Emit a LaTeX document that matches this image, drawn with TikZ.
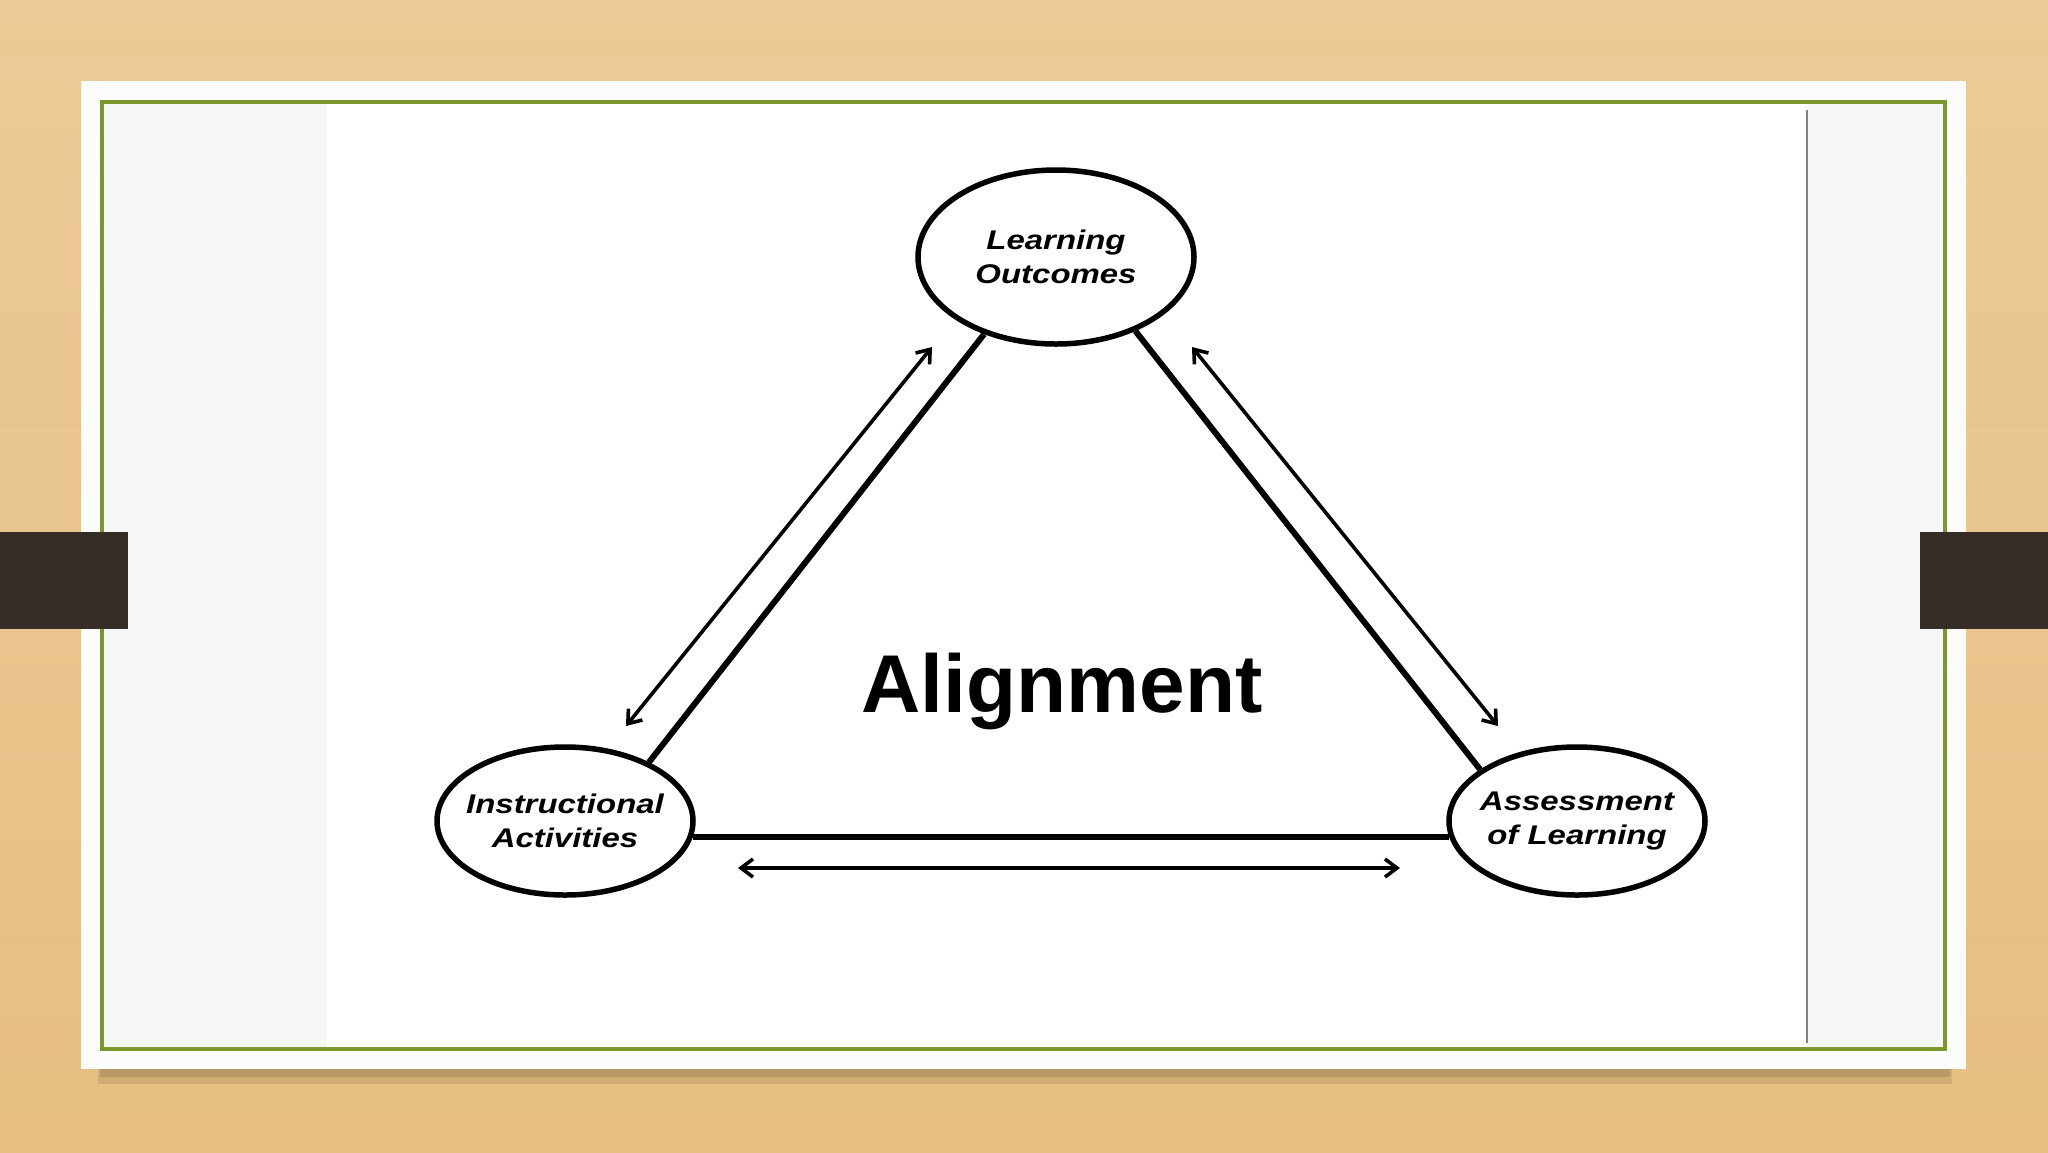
\documentclass[tikz,border=0pt]{standalone}
\usepackage{fontspec}
\setmainfont{Liberation Sans}
\newfontfamily\ovalfont{Liberation Sans}[FakeStretch=1.22]
\usetikzlibrary{arrows.meta,shapes.geometric}
\definecolor{WoodTan}{RGB}{236,203,152}
\definecolor{WoodDeep}{RGB}{230,190,130}
\definecolor{FrameGreen}{RGB}{122,152,44}
\definecolor{TabBrown}{RGB}{54,44,40}
\definecolor{PaneGrey}{RGB}{246,247,247}

\tikzset{
  oval/.style={
    ellipse,
    draw=black,
    line width=5.5pt,
    fill=white,
    inner xsep=-10pt,
    inner ysep=0pt,
    align=center,
    font=\ovalfont\bfseries\itshape\fontsize{27}{34}\selectfont
  },
  link/.style={line width=6pt},
  twoway/.style={
    line width=3.6pt,
    {Straight Barb[length=12pt,width=18pt]}-{Straight Barb[length=12pt,width=18pt]}
  }
}

\begin{document}
\begin{tikzpicture}[x=1pt,y=-1pt]
  \useasboundingbox (0,0) rectangle (2048,1152);
  % table and slide card
  \shade[top color=WoodTan, bottom color=WoodDeep] (0,0) rectangle (2048,1152);
  \foreach \yy/\op in {38/0.12,160/0.08,410/0.1,700/0.08,930/0.1,1110/0.1}
    \fill[WoodDeep, opacity=\op] (0,\yy) rectangle (2048,\yy+18);
  \fill[black!70!brown, opacity=0.12] (98,1066) rectangle (1952,1084);
  \fill[black!70!brown, opacity=0.14] (100,1066) rectangle (1950,1077);
  \fill[white!98!gray] (81,81) rectangle (1966,1069);
  \fill[PaneGrey] (102,102) rectangle (327,1049);
  \fill[PaneGrey] (1807,102) rectangle (1945,1049);
  \fill[white] (327,102) rectangle (1807,1049);
  \draw[gray, line width=2.5pt] (1807,110) -- (1807,1043);
  \draw[FrameGreen, line width=4pt] (102,102) rectangle (1945,1049);
  \fill[TabBrown] (0,532) rectangle (128,629);
  \fill[TabBrown] (1920,532) rectangle (2048,629);

  \node[oval, minimum width=276pt, minimum height=174pt] (outcomes) at (1056,257) {Learning\\Outcomes};
  \node[oval, minimum width=256pt, minimum height=148pt] (activities) at (565,821) {Instructional\\Activities};
  \node[oval, minimum width=256pt, minimum height=148pt] (assessment) at (1577,821) {Assessment\\of Learning};

  \draw[link] (outcomes.227) -- (activities.35);
  \draw[link] (outcomes.317) -- (assessment.152);
  \draw[link] (activities.-7) -- (assessment.187);

  \coordinate (leftTop) at (932,347);
  \coordinate (leftLow) at (626,726);
  \coordinate (rightTop) at (1192,347);
  \coordinate (rightLow) at (1498,726);
  \coordinate (lowLeft) at (738,868);
  \coordinate (lowRight) at (1400,868);
  \draw[twoway] (leftLow) -- (leftTop);
  \draw[twoway] (rightTop) -- (rightLow);
  \draw[twoway] (lowLeft) -- (lowRight);

  \node[font=\bfseries\fontsize{82}{98}\selectfont, anchor=base] (alignment) at (1062,712) {Alignment};
\end{tikzpicture}
\end{document}
